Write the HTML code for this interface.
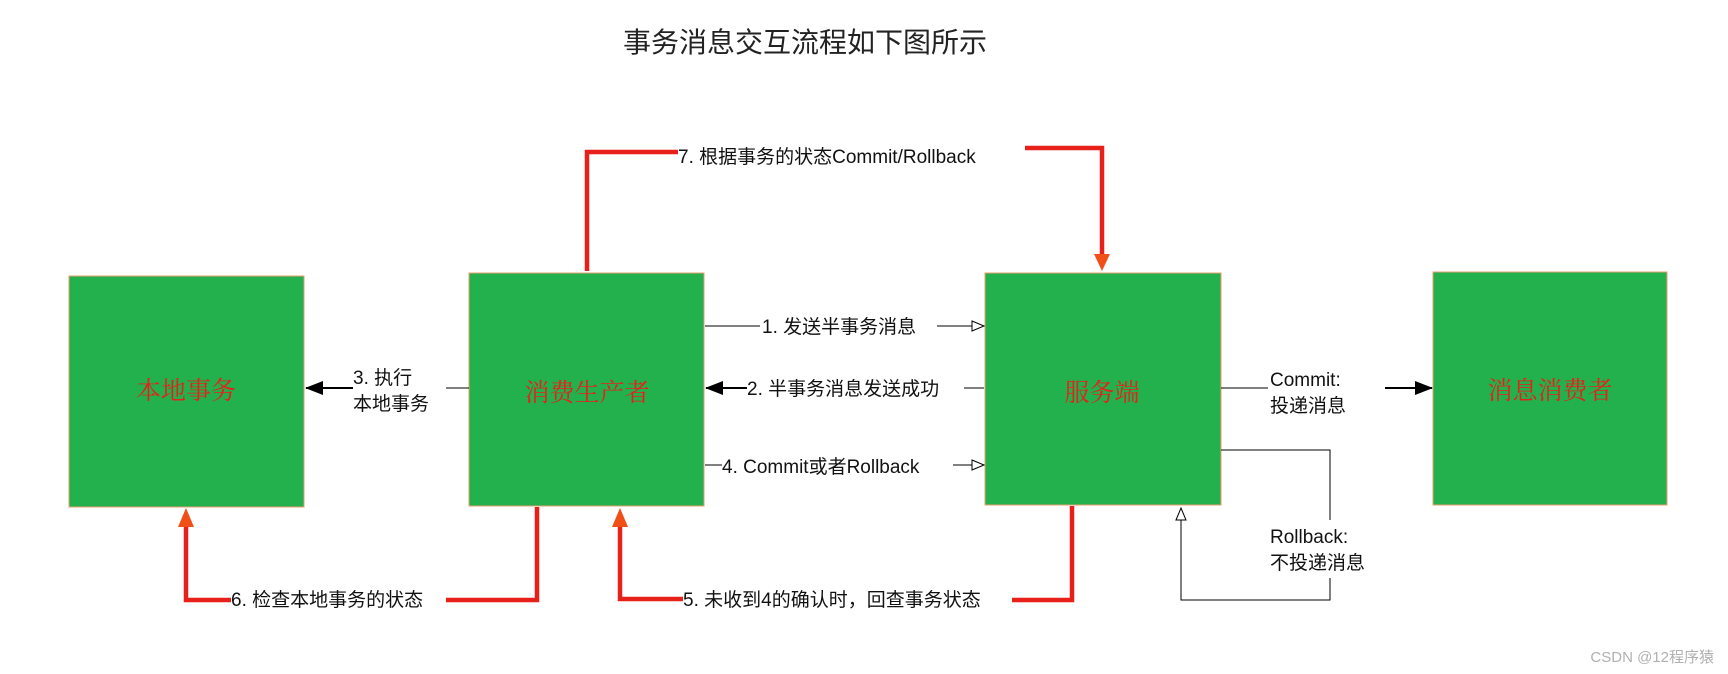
<!DOCTYPE html>
<html><head><meta charset="utf-8"><style>
html,body{margin:0;padding:0;background:#fff;width:1728px;height:674px;overflow:hidden}
svg text{font-family:"Liberation Sans","Noto Sans CJK SC",sans-serif;fill:#111}
.bx{font-family:"Liberation Serif","Noto Serif CJK SC",serif !important;fill:#e8201a !important;font-size:25px}
</style></head><body>
<svg width="1728" height="674" xmlns="http://www.w3.org/2000/svg">
<defs>
<marker id="hol" markerWidth="14" markerHeight="12" refX="13" refY="6" orient="auto" markerUnits="userSpaceOnUse"><path d="M1,1 L13,6 L1,11 Z" fill="#fff" stroke="#000" stroke-width="1"/></marker>
<marker id="fil" markerWidth="18" markerHeight="14" refX="17" refY="7" orient="auto" markerUnits="userSpaceOnUse"><path d="M0,0 L18,7 L0,14 Z" fill="#000"/></marker>
</defs>
<text x="805" y="52" text-anchor="middle" font-size="28" style="fill:#222">事务消息交互流程如下图所示</text>
<g fill="#22b14c" stroke="#e8a070" stroke-width="1">
<rect x="69" y="276" width="235" height="231"/>
<rect x="469" y="273" width="235" height="233"/>
<rect x="985" y="273" width="236" height="232"/>
<rect x="1433" y="272" width="234" height="233"/>
</g>
<text class="bx" x="186" y="399" text-anchor="middle">本地事务</text>
<text class="bx" x="587" y="401" text-anchor="middle">消费生产者</text>
<text class="bx" x="1102" y="401" text-anchor="middle">服务端</text>
<text class="bx" x="1550" y="399" text-anchor="middle">消息消费者</text>
<g stroke="#000" stroke-width="1" fill="none">
<line x1="705" y1="326" x2="760" y2="326"/>
<line x1="937" y1="326" x2="984" y2="326" marker-end="url(#hol)"/>
<line x1="747" y1="388" x2="706" y2="388" stroke-width="2" marker-end="url(#fil)"/>
<line x1="964" y1="388" x2="984" y2="388"/>
<line x1="705" y1="465" x2="722" y2="465"/>
<line x1="953" y1="465" x2="984" y2="465" marker-end="url(#hol)"/>
<line x1="446" y1="388" x2="469" y2="388"/>
<line x1="353" y1="388" x2="306" y2="388" stroke-width="2" marker-end="url(#fil)"/>
<line x1="1221" y1="388" x2="1268" y2="388"/>
<line x1="1385" y1="388" x2="1432" y2="388" stroke-width="2" marker-end="url(#fil)"/>
<polyline points="1221,450 1330,450 1330,600 1181,600 1181,508" marker-end="url(#hol)"/>
</g>
<rect x="1266" y="520" width="120" height="58" fill="#fff"/>
<g font-size="19">
<text x="762" y="333">1. 发送半事务消息</text>
<text x="747" y="395">2. 半事务消息发送成功</text>
<text x="722" y="473">4. Commit或者Rollback</text>
<text x="353" y="384">3. 执行</text>
<text x="353" y="410">本地事务</text>
<text x="1270" y="386">Commit:</text>
<text x="1270" y="412">投递消息</text>
<text x="1270" y="543">Rollback:</text>
<text x="1270" y="569">不投递消息</text>
<text x="678" y="163">7. 根据事务的状态Commit/Rollback</text>
<text x="231" y="606">6. 检查本地事务的状态</text>
<text x="683" y="606">5. 未收到4的确认时，回查事务状态</text>
</g>
<g stroke="#e8201a" stroke-width="4.5" fill="none">
<polyline points="587,271 587,152 678,152"/>
<polyline points="1025,148 1102,148 1102,255"/>
<polyline points="537,507 537,600 446,600"/>
<polyline points="231,600 186,600 186,525"/>
<polyline points="1072,506 1072,600 1012,600"/>
<polyline points="683,599 620,599 620,525"/>
</g>
<path d="M1094,254 L1110,254 L1102,271 Z" fill="#f05018"/>
<path d="M178,527 L194,527 L186,508 Z" fill="#f05018"/>
<path d="M612,527 L628,527 L620,508 Z" fill="#f05018"/>
<text x="1714" y="662" text-anchor="end" font-size="15" style="fill:#b0b0b0">CSDN @12程序猿</text>
</svg>
</body></html>
